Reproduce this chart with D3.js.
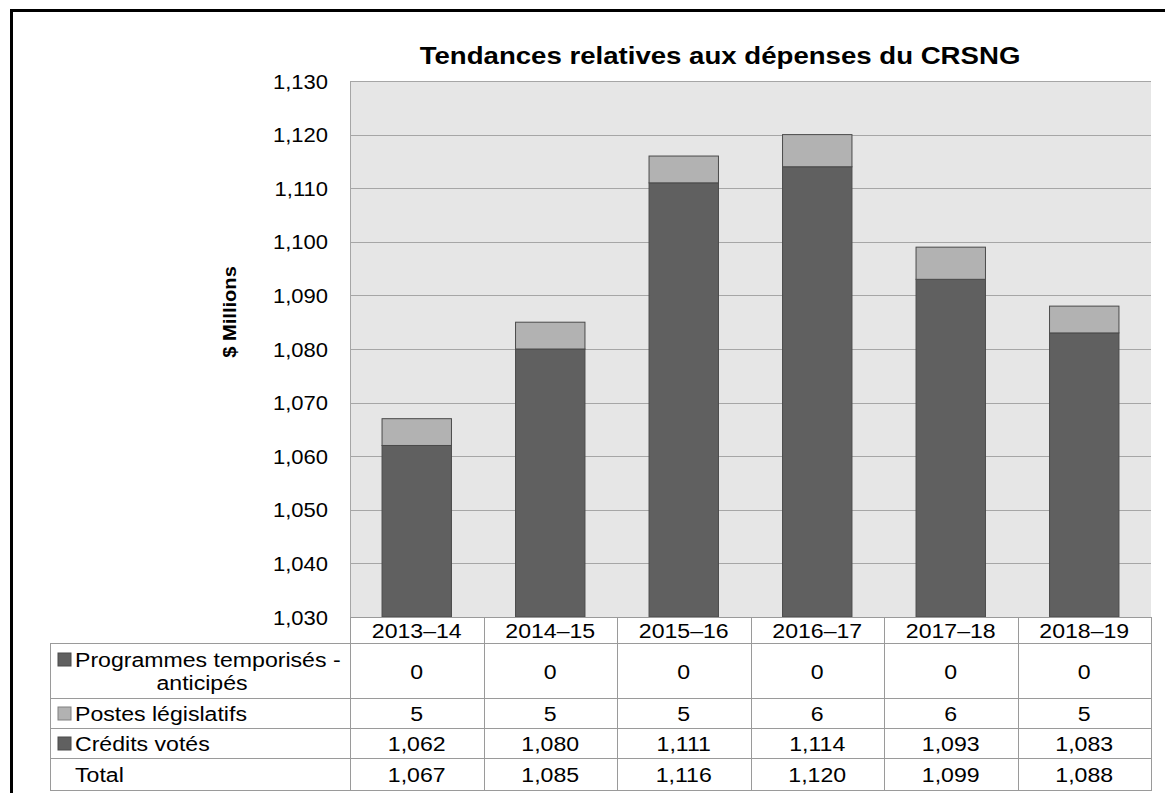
<!DOCTYPE html>
<html>
<head>
<meta charset="utf-8">
<script src="https://cdn.jsdelivr.net/npm/d3@7"></script>
<style>
  body { margin: 0; background: #fff; }
  text { font-family: "Liberation Sans", Arial, sans-serif; fill: #000; }
</style>
</head>
<body>
<div id="chart"></div>
<script>
// data
const years = ["2013–14", "2014–15", "2015–16", "2016–17", "2017–18", "2018–19"];
const programmes = [0, 0, 0, 0, 0, 0];
const postes = [5, 5, 5, 6, 6, 5];
const credits = [1062, 1080, 1111, 1114, 1093, 1083];
const totals = [1067, 1085, 1116, 1120, 1099, 1088];
const yTicks = [1030, 1040, 1050, 1060, 1070, 1080, 1090, 1100, 1110, 1120, 1130];

const W = 1165, H = 793;
const plot = {left: 350, right: 1151, top: 81, bottom: 617};
const SX = 1.1;  // the original text is a bit wide
const fs = "20px";
const tfs = "21px";

const svg = d3.select("#chart").append("svg")
  .attr("width", W).attr("height", H);

// place a text with a horizontal stretch
function label(g, x, y, txt, anchor, size) {
  return g.append("text")
    .attr("transform", "translate(" + x + "," + y + ") scale(" + SX + ",1)")
    .attr("text-anchor", anchor || "start")
    .style("font-size", size || tfs)
    .text(txt);
}

// outer frame (top + left only visible)
svg.append("path")
  .attr("d", "M11.5,793 L11.5,10.5 L1165,10.5")
  .attr("fill", "none").attr("stroke", "#000").attr("stroke-width", 3);

svg.append("text")
  .attr("transform", "translate(720,64) scale(1.15,1)")
  .attr("text-anchor", "middle")
  .style("font-size", "24px").style("font-weight", "bold")
  .text("Tendances relatives aux dépenses du CRSNG");

let x = d3.scaleBand()
  .domain(years)
  .range([plot.left, plot.right])
  .paddingInner(0.48).paddingOuter(0.24);

let xCol = d3.scaleBand()
  .domain(years)
  .range([plot.left, plot.right]);

let y = d3.scaleLinear()
  .domain([1030, 1130])
  .range([plot.bottom, plot.top])
  .clamp(true);

svg.append("rect")
  .attr("x", plot.left).attr("y", plot.top)
  .attr("width", plot.right - plot.left).attr("height", plot.bottom - plot.top)
  .attr("fill", "#e6e6e6");

// gridlines
svg.append("g")
  .selectAll("line")
  .data(yTicks)
  .enter().append("line")
  .attr("x1", plot.left).attr("x2", plot.right)
  .attr("y1", d => Math.round(y(d)) + 0.5).attr("y2", d => Math.round(y(d)) + 0.5)
  .attr("stroke", "#a6a6a6").attr("stroke-width", 1);

svg.append("line")
  .attr("x1", plot.left + 0.5).attr("x2", plot.left + 0.5)
  .attr("y1", plot.top).attr("y2", plot.bottom)
  .attr("stroke", "#a6a6a6");

// y labels
let yAxis = svg.append("g")
  .attr("transform", "translate(" + (plot.left - 22) + ",0)")
  .call(d3.axisLeft(y).tickValues(yTicks).tickFormat(d3.format(",")).tickSize(0).tickPadding(0));
yAxis.select(".domain").remove();
yAxis.selectAll("text")
  .attr("x", null).attr("y", null)
  .attr("transform", "translate(0,7) scale(" + SX + ",1)")
  .attr("dy", null)
  .attr("font-family", null)
  .style("font-size", fs);

svg.append("text")
  .attr("transform", "translate(236,312) rotate(-90) scale(1.06,1)")
  .attr("text-anchor", "middle")
  .style("font-size", "19px").style("font-weight", "bold")
  .text("$ Millions");

// stacked bars: votés from the axis floor, législatifs on top
const series = [
  {name: "Crédits votés", values: credits, color: "#606060", base: years.map(() => 1030)},
  {name: "Postes législatifs", values: postes, color: "#b2b2b2", base: credits},
  {name: "Programmes temporisés", values: programmes, color: "#606060", base: totals}
];

series.forEach(function(s) {
  svg.append("g")
    .selectAll("rect")
    .data(years)
    .enter().append("rect")
    .filter((d, i) => s.values[i] > 0)
    .attr("x", d => x(d))
    .attr("width", x.bandwidth())
    .attr("y", (d, i) => y(s.name === "Crédits votés" ? s.values[i] : s.base[i] + s.values[i]))
    .attr("height", (d, i) => s.name === "Crédits votés"
        ? y(1030) - y(s.values[i])
        : y(s.base[i]) - y(s.base[i] + s.values[i]))
    .attr("fill", s.color)
    .attr("stroke", "#4a4a4a").attr("stroke-width", 1);
});

// data table
const tableLeft = 50;
const headTop = plot.bottom, headBottom = 643;
const rowBounds = [643, 698, 728, 758, 790];
const gridColor = "#9a9a9a";

let tbl = svg.append("g").attr("class", "table");

tbl.append("rect")
  .attr("x", plot.left + 0.5).attr("y", headTop + 0.5)
  .attr("width", plot.right - plot.left).attr("height", rowBounds[4] - headTop)
  .attr("fill", "none").attr("stroke", gridColor);
tbl.append("rect")
  .attr("x", tableLeft + 0.5).attr("y", headBottom + 0.5)
  .attr("width", plot.right - tableLeft).attr("height", rowBounds[4] - headBottom)
  .attr("fill", "none").attr("stroke", gridColor);

tbl.selectAll(".hl")
  .data(rowBounds.slice(1, 4))
  .enter().append("line")
  .attr("x1", tableLeft).attr("x2", plot.right)
  .attr("y1", d => d + 0.5).attr("y2", d => d + 0.5)
  .attr("stroke", gridColor);
tbl.append("line")
  .attr("x1", plot.left).attr("x2", plot.right)
  .attr("y1", headBottom + 0.5).attr("y2", headBottom + 0.5)
  .attr("stroke", gridColor);

tbl.selectAll(".vl")
  .data(years.slice(1))
  .enter().append("line")
  .attr("x1", d => Math.round(xCol(d)) + 0.5).attr("x2", d => Math.round(xCol(d)) + 0.5)
  .attr("y1", headTop).attr("y2", rowBounds[4])
  .attr("stroke", gridColor);

years.forEach(function(d) {
  label(tbl, xCol(d) + xCol.bandwidth() / 2, (headTop + headBottom) / 2 + 8, d, "middle");
});

const rows = [
  {values: programmes, color: "#606060"},
  {label: "Postes législatifs", values: postes, color: "#b2b2b2"},
  {label: "Crédits votés", values: credits, color: "#606060"},
  {label: "Total", values: totals, color: null}
];
const fmt = d3.format(",");

rows.forEach(function(r, ri) {
  let cy = (rowBounds[ri] + rowBounds[ri + 1]) / 2;
  r.values.forEach(function(v, i) {
    label(tbl, xCol(years[i]) + xCol.bandwidth() / 2, cy + 8, fmt(v), "middle");
  });
});

// first row: two-line centered label with marker
tbl.append("rect")
  .attr("x", 58).attr("y", 653).attr("width", 13).attr("height", 13)
  .attr("fill", "#606060").attr("stroke", "#4a4a4a");
label(tbl, 75, 667, "Programmes temporisés -", "start");
label(tbl, 202, 690, "anticipés", "middle");

rows.slice(1).forEach(function(r, k) {
  let ri = k + 1;
  let cy = (rowBounds[ri] + rowBounds[ri + 1]) / 2;
  if (r.color) {
    tbl.append("rect")
      .attr("x", 58).attr("y", cy - 6).attr("width", 13).attr("height", 13)
      .attr("fill", r.color).attr("stroke", r.color === "#b2b2b2" ? "#808080" : "#4a4a4a");
  }
  label(tbl, 75, cy + 8, r.label, "start");
});
</script>
</body>
</html>
